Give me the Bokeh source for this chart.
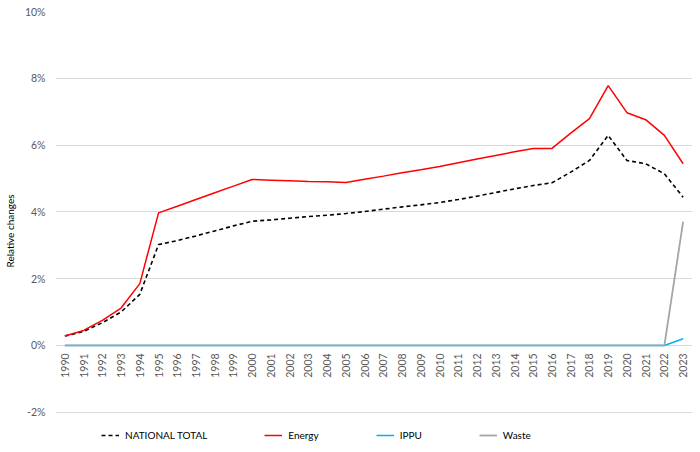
import math
from bokeh.plotting import figure
from bokeh.models import (FactorRange, Range1d, FixedTicker, PrintfTickFormatter,
                          Legend, LegendItem, ColumnDataSource)
from bokeh.core.properties import value
from bokeh.embed import file_html
from bokeh.resources import INLINE

years = [str(y) for y in range(1990, 2024)]
national_total = [0.28, 0.42, 0.68, 1.00, 1.53, 3.02, 3.14, 3.28, 3.43, 3.58,
                  3.72, 3.76, 3.81, 3.86, 3.90, 3.95, 4.01, 4.08, 4.15, 4.21,
                  4.28, 4.37, 4.47, 4.58, 4.69, 4.79, 4.87, 5.19, 5.54, 6.29,
                  5.54, 5.44, 5.14, 4.44]
energy = [0.28, 0.45, 0.75, 1.12, 1.85, 3.97, 4.17, 4.37, 4.57, 4.77,
          4.97, 4.95, 4.93, 4.91, 4.90, 4.88, 4.98, 5.07, 5.17, 5.26,
          5.36, 5.47, 5.58, 5.69, 5.80, 5.90, 5.90, 6.36, 6.79, 7.78,
          6.97, 6.76, 6.29, 5.44]
ippu = [0, 0, 0, 0, 0, 0, 0, 0, 0, 0,
        0, 0, 0, 0, 0, 0, 0, 0, 0, 0,
        0, 0, 0, 0, 0, 0, 0, 0, 0, 0,
        0, 0, 0, 0.20]
waste = [0, 0, 0, 0, 0, 0, 0, 0, 0, 0,
         0, 0, 0, 0, 0, 0, 0, 0, 0, 0,
         0, 0, 0, 0, 0, 0, 0, 0, 0, 0,
         0, 0, 0, 3.71]
y_ticks = [-2, 0, 2, 4, 6, 8, 10]

FONT = "Lato"

p = figure(width=698, height=450, output_backend="svg", toolbar_location=None,
           x_range=FactorRange(factors=years, range_padding=0),
           y_range=Range1d(-3.146, 10),
           min_border_left=53, min_border_right=6, min_border_top=11, min_border_bottom=0)
p.outline_line_color = None
p.background_fill_color = "white"
p.border_fill_color = "white"

p.xaxis.visible = False
p.xgrid.visible = False
p.ygrid.ticker = FixedTicker(ticks=y_ticks)
p.ygrid.grid_line_color = "#D9D9D9"
p.ygrid.grid_line_width = 1

yax = p.yaxis[0]
yax.ticker = FixedTicker(ticks=y_ticks)
yax.formatter = PrintfTickFormatter(format="%d%%")
yax.axis_line_color = None
yax.major_tick_line_color = None
yax.minor_tick_line_color = None
yax.major_tick_out = 0
yax.major_label_standoff = 10
yax.major_label_text_font = FONT
yax.major_label_text_font_size = "10.5px"
yax.major_label_text_color = "#595959"
yax.axis_label = "Relative changes"
yax.axis_label_text_font = FONT
yax.axis_label_text_font_size = "10px"
yax.axis_label_text_font_style = "normal"
yax.axis_label_text_color = "#000000"
yax.axis_label_standoff = 6

src = ColumnDataSource(dict(x=years, nat=national_total, en=energy, ip=ippu, wa=waste,
                            y0=[0] * len(years)))

r_nat = p.line("x", "nat", source=src, line_color="black", line_width=1.6, line_dash="4 3")
r_en = p.line("x", "en", source=src, line_color="#FF0000", line_width=1.5)
r_ip = p.line("x", "ip", source=src, line_color="#00B0F0", line_width=1.5)
r_wa = p.line("x", "wa", source=src, line_color="#A5A5A5", line_width=1.8)

p.text(x="x", y="y0", text="x", source=src, angle=math.pi / 2, text_align="right",
       text_baseline="middle", y_offset=8, text_font=value(FONT),
       text_font_size="10.5px", text_color="#595959")

legend = Legend(items=[LegendItem(label="NATIONAL TOTAL", renderers=[r_nat]),
                       LegendItem(label="Energy", renderers=[r_en]),
                       LegendItem(label="IPPU", renderers=[r_ip]),
                       LegendItem(label="Waste", renderers=[r_wa])],
                orientation="horizontal", location=(46, 8),
                spacing=57, glyph_width=18, glyph_height=14, label_standoff=6,
                padding=0, margin=0, border_line_color=None,
                background_fill_alpha=0,
                label_text_font=FONT, label_text_font_size="10px",
                label_text_color="#000000", label_height=14)
p.add_layout(legend)

open("out.html", "w").write(file_html(p, INLINE))
